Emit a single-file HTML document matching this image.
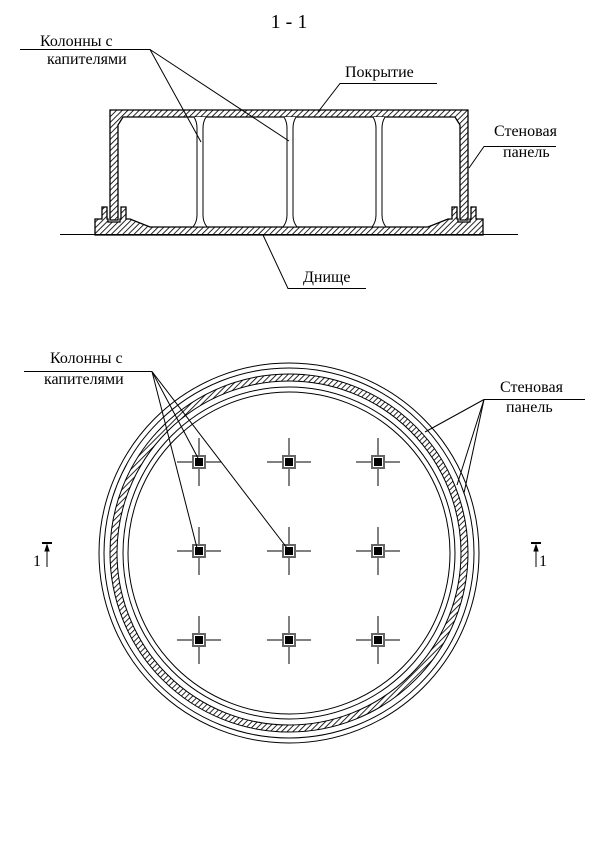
<!DOCTYPE html>
<html><head><meta charset="utf-8"><style>
html,body{margin:0;padding:0;background:#fff;}
svg{display:block;}
text{font-family:"Liberation Serif",serif;fill:#000;}
</style></head><body>
<svg width="604" height="841" viewBox="0 0 604 841" xmlns="http://www.w3.org/2000/svg">
<defs>
<pattern id="h" patternUnits="userSpaceOnUse" width="4" height="4" patternTransform="rotate(45)">
<rect width="4" height="4" fill="#fff"/><line x1="0" y1="0" x2="0" y2="4" stroke="#000" stroke-width="1.7"/>
</pattern>
</defs>
<g stroke="#000" stroke-width="1" fill="none">
<text x="289" y="28" font-size="20" text-anchor="middle" stroke="none">1 - 1</text>

<path d="M110,110 H468 V220 H460 V125 L455,117 H123 L118,125 V220 H110 Z" fill="url(#h)" stroke-width="1.3"/>
<path d="M95,235 V219 H102 V207 H107 V219 H108 V222 H120 V219 H121 V207 H126 V219 H130 L150,227 H428 L448,219 H452 V207 H457 V219 H458 V222 H470 V219 H471 V207 H476 V219 H483 V235 Z" fill="url(#h)" stroke-width="1.3"/>
<line x1="60" y1="234.5" x2="518" y2="234.5"/>
<g fill="#fff">
<path d="M194,117 Q197,122 197,128 V215 Q197,222 193,227 H207 Q203,222 203,215 V128 Q203,122 206,117"/>
<path d="M284,117 Q287,122 287,128 V215 Q287,222 283,227 H297 Q293,222 293,215 V128 Q293,122 296,117"/>
<path d="M373,117 Q376,122 376,128 V215 Q376,222 372,227 H386 Q382,222 382,215 V128 Q382,122 385,117"/>
</g>

<text x="40" y="46" font-size="16" stroke="none">Колонны с</text>
<text x="47" y="64" font-size="16" stroke="none">капителями</text>
<polyline points="20,49.5 150,49.5 201,142"/>
<line x1="150" y1="49.5" x2="289" y2="141"/>
<text x="345" y="77" font-size="16" stroke="none">Покрытие</text>
<polyline points="437,83.5 340,83.5 318,112"/>
<text x="494" y="136" font-size="16" stroke="none">Стеновая</text>
<text x="503" y="157" font-size="16" stroke="none">панель</text>
<polyline points="556,146.5 484,146.5 469,168"/>
<text x="303" y="282" font-size="16" stroke="none">Днище</text>
<polyline points="366,288.5 288,288.5 263,235"/>

<circle cx="289" cy="553" r="190"/>
<circle cx="289" cy="553" r="185"/>
<circle cx="289" cy="553" r="175.5" stroke="url(#h)" stroke-width="7"/>
<circle cx="289" cy="553" r="179"/>
<circle cx="289" cy="553" r="172"/>
<circle cx="289" cy="553" r="166"/>
<circle cx="289" cy="553" r="161"/>

<g id="c">
<line x1="177" y1="462" x2="221" y2="462"/><line x1="199" y1="438" x2="199" y2="486"/>
<rect x="193" y="456" width="12" height="12" fill="#fff" stroke="#666" stroke-width="2"/>
<rect x="195" y="458" width="8" height="8" fill="#000" stroke="none"/>
</g>
<use href="#c" x="90"/><use href="#c" x="179"/>
<use href="#c" y="89"/><use href="#c" x="90" y="89"/><use href="#c" x="179" y="89"/>
<use href="#c" y="178"/><use href="#c" x="90" y="178"/><use href="#c" x="179" y="178"/>

<text x="50" y="363" font-size="16" stroke="none">Колонны с</text>
<text x="44" y="384" font-size="16" stroke="none">капителями</text>
<line x1="24" y1="371.5" x2="152" y2="371.5"/>
<line x1="152" y1="371.5" x2="198" y2="458"/>
<line x1="152" y1="371.5" x2="197" y2="548"/>
<line x1="152" y1="371.5" x2="287" y2="548"/>
<text x="500" y="392" font-size="16" stroke="none">Стеновая</text>
<text x="506" y="412" font-size="16" stroke="none">панель</text>
<line x1="484" y1="399.5" x2="585" y2="399.5"/>
<line x1="484" y1="399.5" x2="425" y2="432"/>
<line x1="484" y1="399.5" x2="457" y2="485"/>
<line x1="484" y1="399.5" x2="464" y2="493"/>

<line x1="42" y1="543" x2="52" y2="543" stroke-width="2"/>
<line x1="47" y1="548" x2="47" y2="567"/>
<path d="M45,551 L47,545 L49,551 Z" fill="#000"/>
<text x="33" y="566" font-size="16" stroke="none">1</text>
<line x1="531" y1="543" x2="541" y2="543" stroke-width="2"/>
<line x1="536" y1="548" x2="536" y2="567"/>
<path d="M534,551 L536,545 L538,551 Z" fill="#000"/>
<text x="539" y="566" font-size="16" stroke="none">1</text>
</g>
</svg>
</body></html>
